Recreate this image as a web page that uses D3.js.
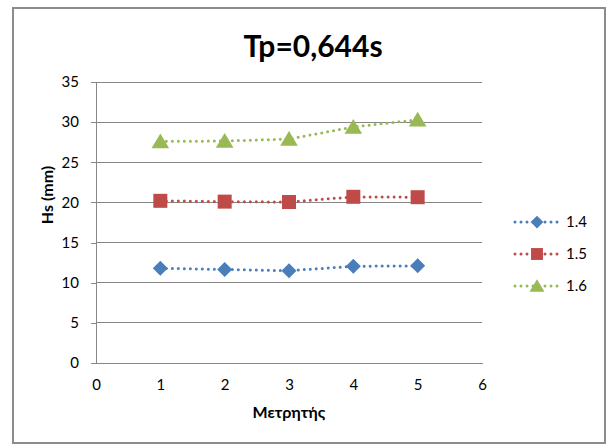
<!DOCTYPE html>
<html>
<head>
<meta charset="utf-8">
<script src="https://cdn.jsdelivr.net/npm/d3@7"></script>
<style>
  html, body { margin: 0; padding: 0; background: #fff; }
  svg { display: block; }
  text { font-family: Lato, "Open Sans", sans-serif; fill: #000; }
</style>
</head>
<body>
<svg id="chart" width="610" height="446"></svg>
<script>
// Measurement points (gauge number)
const gauges = [1, 2, 3, 4, 5];
// Significant wave height Hs (mm) per series
const series14 = [11.8, 11.65, 11.5, 12.05, 12.1];
const series15 = [20.2, 20.1, 20.05, 20.7, 20.65];
const series16 = [27.6, 27.65, 27.9, 29.4, 30.3];
const seriesNames = ["1.4", "1.5", "1.6"];
const xTicks = [0, 1, 2, 3, 4, 5, 6];
const yTicks = [0, 5, 10, 15, 20, 25, 30, 35];

const colors = ["#4a7ebb", "#be4b48", "#98b954"];

// marker shapes: diamond (square turned 45°), square, triangle
const markerPath = [
  s => `M0,${-s}L${s},0L0,${s}L${-s},0Z`,
  s => `M${-s},${-s}H${s}V${s}H${-s}Z`,
  s => `M0,${-s}L${s * 1.1},${s * 0.85}H${-s * 1.1}Z`
];
const markerHalf = [7.5, 7, 8];

const svg = d3.select("#chart");

// outer chart frame
svg.append("rect")
  .attr("x", 13).attr("y", 8).attr("width", 592).attr("height", 435)
  .attr("fill", "#fff").attr("stroke", "#8c8c8c").attr("stroke-width", 2);

const plot = { left: 96, right: 482, top: 82, bottom: 363 };

const x = d3.scaleLinear().domain([0, 6]).range([plot.left, plot.right]);
const y = d3.scaleLinear().domain([0, 35]).range([plot.bottom, plot.top]);

// horizontal gridlines
svg.append("g")
  .selectAll("line")
  .data(yTicks.filter(t => t > 0))
  .join("line")
  .attr("x1", plot.left).attr("x2", plot.right)
  .attr("y1", d => y(d)).attr("y2", d => y(d))
  .attr("stroke", "#878787").attr("stroke-width", 1)
  .attr("shape-rendering", "crispEdges");

// y axis
const yAxis = svg.append("g")
  .attr("transform", `translate(${plot.left},0)`)
  .call(d3.axisLeft(y).tickValues(yTicks).tickFormat(d3.format("d")).tickSize(5).tickPadding(12));
yAxis.selectAll("path, line").attr("stroke", "#878787").attr("shape-rendering", "crispEdges");
yAxis.selectAll("text").style("font-size", "15px").style("font-family", "Lato, 'Open Sans', sans-serif").attr("fill", "#000");

// x axis
const xAxis = svg.append("g")
  .attr("transform", `translate(0,${plot.bottom})`)
  .call(d3.axisBottom(x).tickValues(xTicks).tickFormat(d3.format("d")).tickSize(0).tickPadding(16).tickSizeOuter(0));
xAxis.selectAll("path, line").attr("stroke", "#878787").attr("shape-rendering", "crispEdges");
xAxis.selectAll("text").style("font-size", "15px").style("font-family", "Lato, 'Open Sans', sans-serif").attr("fill", "#000");

// title
svg.append("text")
  .attr("x", 313).attr("y", 57)
  .attr("text-anchor", "middle")
  .style("font-size", "30px").style("font-weight", "bold")
  .text("Tp=0,644s");

// axis titles
svg.append("text")
  .attr("x", 289).attr("y", 418)
  .attr("text-anchor", "middle")
  .style("font-size", "16px").style("font-weight", "bold")
  .text("Μετρητής");

svg.append("text")
  .attr("transform", `translate(53,195) rotate(-90)`)
  .attr("text-anchor", "middle")
  .style("font-size", "16px").style("font-weight", "bold")
  .text("Hs (mm)");

// data series
const allSeries = [series14, series15, series16];
const line = d3.line().x((d, i) => x(gauges[i])).y(d => y(d));

allSeries.forEach((vals, si) => {
  const g = svg.append("g");
  g.append("path")
    .datum(vals)
    .attr("d", line)
    .attr("fill", "none")
    .attr("stroke", colors[si])
    .attr("stroke-width", 3)
    .attr("stroke-dasharray", "0,6")
    .attr("stroke-linecap", "round");
  g.selectAll("path.marker")
    .data(vals)
    .join("path")
    .attr("class", "marker")
    .attr("transform", (d, i) => `translate(${x(gauges[i])},${y(d)})`)
    .attr("d", markerPath[si](markerHalf[si]))
    .attr("fill", colors[si]);
});

// legend
const legend = svg.append("g");
seriesNames.forEach((name, i) => {
  const ly = 222 + i * 32;
  legend.append("line")
    .attr("x1", 515).attr("x2", 558)
    .attr("y1", ly).attr("y2", ly)
    .attr("stroke", colors[i]).attr("stroke-width", 3)
    .attr("stroke-dasharray", "0,6").attr("stroke-linecap", "round");
  legend.append("path")
    .attr("transform", `translate(537,${ly})`)
    .attr("d", markerPath[i](markerHalf[i] * 0.85))
    .attr("fill", colors[i]);
  legend.append("text")
    .attr("x", 566).attr("y", ly)
    .attr("dy", "0.35em")
    .style("font-size", "15px")
    .text(name);
});
</script>
</body>
</html>
